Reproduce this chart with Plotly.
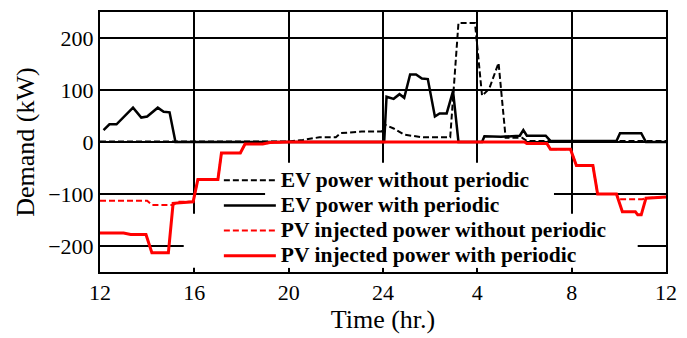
import plotly.graph_objects as go

# Time axis: hours from 12:00 on day one to 12:00 on day two
tick_vals = [12, 16, 20, 24, 28, 32, 36]
tick_text = ["12", "16", "20", "24", "4", "8", "12"]
y_ticks = [-200, -100, 0, 100, 200]

# EV charging demand without periodic scheduling (kW)
ev_without_t = [12.0, 20.0, 20.6, 21.3, 22.0, 22.2, 23.1, 23.95, 24.05, 24.45, 24.9, 25.7,
                26.85, 27.2, 27.9, 28.2, 28.5, 28.9, 29.2, 29.9, 30.1, 36.0]
ev_without_kw = [1, 1, 4, 9, 9, 17, 20, 20, 34, 26, 14, 9,
                 9, 229, 229, 89, 102, 152, 8, 8, 2, 2]

# EV charging demand with periodic scheduling (kW)
ev_with_t = [12.15, 12.4, 12.7, 13.05, 13.4, 13.75, 14.0, 14.45, 14.7, 14.95, 15.2,
             24.05, 24.15, 24.45, 24.7, 24.9, 25.15, 25.4, 25.65, 25.9, 26.2, 26.4, 26.7,
             26.97, 27.2, 28.2, 28.3, 29.0, 29.8, 29.95, 30.1, 30.9, 31.1, 33.9, 34.05,
             34.95, 35.15, 36.0]
ev_with_kw = [23, 34, 34, 49, 66, 47, 49, 66, 58, 57, 0,
              0, 87, 83, 92, 85, 130, 130, 122, 121, 49, 55, 55,
              98, 0, 0, 11, 10, 12, 23, 12, 12, 2, 2, 17,
              17, 0, 0]

# PV power injected into the grid without periodic scheduling (kW)
pv_without_t = [12.0, 14.0, 14.2, 15.1, 15.3, 15.95, 16.15, 17.0, 17.15, 17.95, 18.15, 18.9,
                19.2, 20.0, 30.0, 30.1, 30.95, 31.1, 31.95, 32.2, 32.9, 33.1, 33.9, 34.0,
                35.0, 35.15, 36.0]
pv_without_kw = [-113, -113, -121, -121, -115, -115, -72, -72, -21, -21, -4, -4,
                 -1, 0, 0, -3, -3, -14, -14, -45, -45, -100, -100, -110,
                 -110, -108, -106]

# PV power injected into the grid with periodic scheduling (kW)
pv_with_t = [12.0, 13.0, 13.3, 13.95, 14.2, 14.9, 15.1, 15.95, 16.15, 17.0, 17.15, 17.95,
             18.15, 18.9, 19.2, 20.0, 30.0, 30.1, 30.95, 31.1, 31.95, 32.2, 32.9, 33.1,
             33.9, 34.15, 34.7, 34.8, 34.95, 35.15, 36.0]
pv_with_kw = [-175, -175, -178, -178, -213, -213, -118, -115, -72, -72, -21, -21,
              -4, -4, -1, 0, 0, -3, -3, -14, -14, -45, -45, -100,
              -100, -134, -134, -140, -140, -108, -106]

FONT = "Liberation Serif"


def entry(label):
    # legend rows stay compact while the label itself is set larger
    return f'<span style="font-size:21.5px">{label}</span>'


fig = go.Figure()
fig.add_trace(go.Scatter(x=ev_without_t, y=ev_without_kw, mode="lines",
                         name=entry("EV power without periodic"),
                         line=dict(color="black", width=2, dash="6px,3px")))
fig.add_trace(go.Scatter(x=ev_with_t, y=ev_with_kw, mode="lines",
                         name=entry("EV power with periodic"),
                         line=dict(color="black", width=2.5)))
fig.add_trace(go.Scatter(x=pv_without_t, y=pv_without_kw, mode="lines",
                         name=entry("PV injected power without periodic"),
                         line=dict(color="red", width=2, dash="6px,3px")))
fig.add_trace(go.Scatter(x=pv_with_t, y=pv_with_kw, mode="lines",
                         name=entry("PV injected power with periodic"),
                         line=dict(color="red", width=3)))

# White panels behind the legend hide the grid there but stay under the curves
legend_masks = [
    dict(x0=19.0, x1=31.25, y0=-242, y1=-40),
    dict(x0=15.55, x1=34.8, y0=-242, y1=-138),
]
for m in legend_masks:
    fig.add_shape(type="rect", xref="x", yref="y", layer="between",
                  fillcolor="white", line=dict(width=0), **m)

fig.update_layout(
    width=687, height=338,
    margin=dict(l=100, r=10, t=12, b=64),
    paper_bgcolor="white", plot_bgcolor="white",
    font=dict(family=FONT, size=22, color="black"),
    legend=dict(x=0.21, y=0.42, xanchor="left", yanchor="top",
                bgcolor="rgba(0,0,0,0)", borderwidth=0, itemwidth=52,
                font=dict(family=FONT, size=17, color="black", weight="bold"),
                tracegroupgap=0),
    showlegend=True,
)
fig.update_xaxes(
    range=[12, 36], tickvals=tick_vals, ticktext=tick_text,
    showgrid=True, gridcolor="black", gridwidth=1.5,
    showline=True, linecolor="black", linewidth=2, mirror="ticks",
    ticks="inside", ticklen=4, tickcolor="black", zeroline=False,
    title=dict(text="Time (hr.)", standoff=4),
    tickfont=dict(size=22),
)
fig.update_yaxes(
    range=[-250, 250], tickvals=y_ticks,
    showgrid=True, gridcolor="black", gridwidth=1.5,
    showline=True, linecolor="black", linewidth=2, mirror="ticks",
    ticks="inside", ticklen=4, tickcolor="black", zeroline=False,
    title=dict(text="Demand (kW)", standoff=6),
    tickfont=dict(size=22),
)

fig.write_html("out.html")
